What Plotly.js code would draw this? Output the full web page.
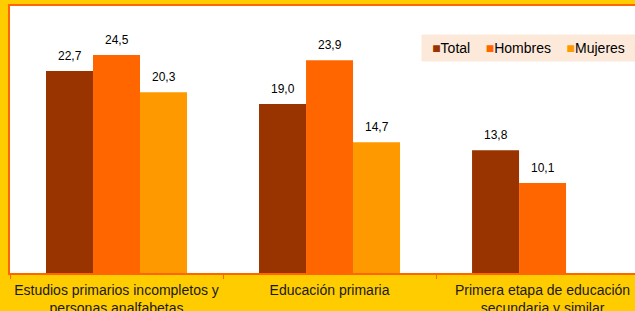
<!DOCTYPE html>
<html><head><meta charset="utf-8">
<script src="https://cdn.plot.ly/plotly-3.0.1.min.js"></script>
<style>html,body{margin:0;padding:0;background:#FFCC00;}#c{width:635px;height:311px;}</style>
</head><body><div id="c"></div>
<script>
const categories = ['Estudios primarios incompletos y<br>personas analfabetas', 'Educación primaria', 'Primera etapa de educación<br>secundaria y similar'];
const total = [22.7, 19.0, 13.8];
const hombres = [24.5, 23.9, 10.1];
const mujeres = [20.3, 14.7, null];
const seriesNames = ['Total', 'Hombres', 'Mujeres'];
const colors = ['#993300', '#FF6600', '#FF9900'];
const allSeries = [total, hombres, mujeres];

const FONT = 'Arial, Liberation Sans, sans-serif';
const fmt = v => v.toFixed(1).replace('.', ',');
const traces = allSeries.map((vals, i) => ({
  type: 'bar', x: categories, y: vals, name: seriesNames[i],
  marker: {color: colors[i]}, hoverinfo: 'none'
}));

const BARW = 47;
const annotations = [];
allSeries.forEach((vals, i) => {
  vals.forEach((v, j) => {
    if (v === null) return;
    annotations.push({x: categories[j], y: v, xref: 'x', yref: 'y', text: fmt(v), showarrow: false,
      xshift: (i - 1) * BARW, yanchor: 'bottom', yshift: 6,
      font: {family: FONT, size: 12, color: '#000'}});
  });
});
// legend box
const legText = seriesNames.map((n, i) => '<span style="color:' + colors[i] + '">■</span>' + n).join('&nbsp;&nbsp;&nbsp;&nbsp;');
annotations.push({xref: 'paper', yref: 'paper', x: 0.6576, y: 0.895, xanchor: 'left', yanchor: 'top',
  text: legText, showarrow: false, bgcolor: '#FDE9D9', borderpad: 5, width: 203, align: 'center',
  font: {family: FONT, size: 14, color: '#000'}});

const layout = {
  width: 635, height: 311,
  paper_bgcolor: '#FFCC00', plot_bgcolor: '#FFFFFF',
  margin: {l: 10, r: 0, t: 6, b: 38},
  barmode: 'group', bargap: 0.338, bargroupgap: 0,
  font: {family: FONT, size: 13, color: '#000'},
  showlegend: false,
  xaxis: {range: [-0.5, 2.434], tickson: 'boundaries', ticks: 'outside', ticklen: 4, tickcolor: '#FF6600',
    tickangle: 0, automargin: false, ticklabelstandoff: 3,
    showline: true, linecolor: '#FF6600', linewidth: 2, mirror: true, showgrid: false,
    tickfont: {family: FONT, size: 14, color: '#1a1a1a'}},
  yaxis: {range: [0, 30], showticklabels: false, showgrid: false, zeroline: false, automargin: false,
    showline: true, linecolor: '#FF6600', linewidth: 2, ticks: ''},
  annotations: annotations
};
Plotly.newPlot('c', traces, layout, {displayModeBar: false, staticPlot: true});
</script></body></html>
